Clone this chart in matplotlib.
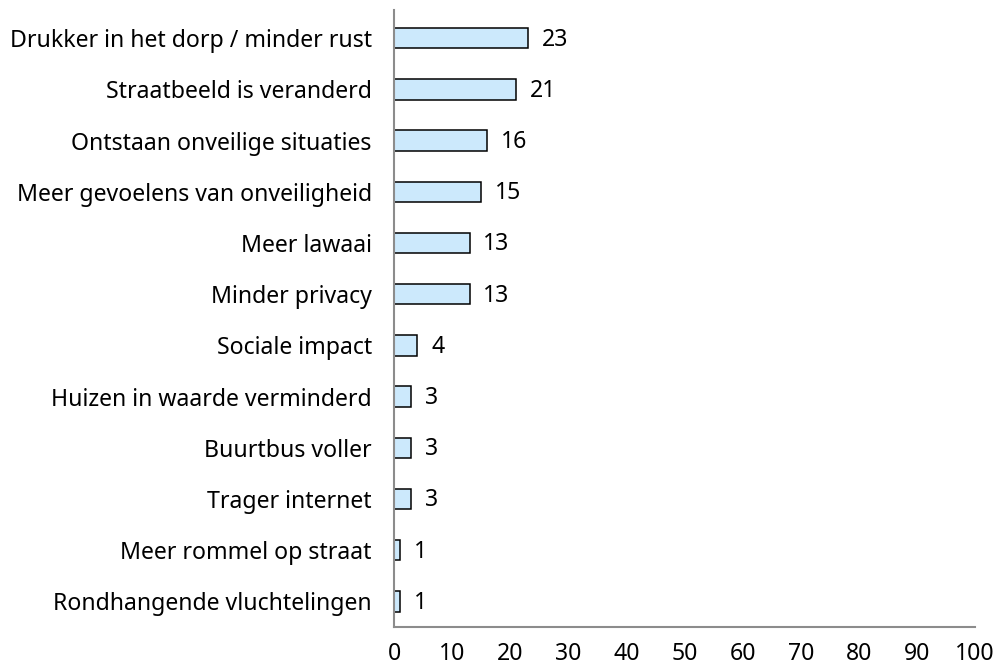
import matplotlib
matplotlib.use('Agg')
import matplotlib.pyplot as plt

categories = [
    'Drukker in het dorp / minder rust',
    'Straatbeeld is veranderd',
    'Ontstaan onveilige situaties',
    'Meer gevoelens van onveiligheid',
    'Meer lawaai',
    'Minder privacy',
    'Sociale impact',
    'Huizen in waarde verminderd',
    'Buurtbus voller',
    'Trager internet',
    'Meer rommel op straat',
    'Rondhangende vluchtelingen',
]
values = [23, 21, 16, 15, 13, 13, 4, 3, 3, 3, 1, 1]
xticks = [0, 10, 20, 30, 40, 50, 60, 70, 80, 90, 100]

plt.rcParams['font.family'] = ['Noto Sans', 'DejaVu Sans']
fs = 16.6

fig = plt.figure(figsize=(9.98, 6.68), dpi=100)
ax = fig.add_axes([0.3948, 0.0614, 0.977 - 0.3948, 0.985 - 0.0614])

ypos = list(range(len(categories)))
ax.barh(ypos, values, height=0.4, color='#cce9fc', edgecolor='black', linewidth=1.1)

for y, v in zip(ypos, values):
    ax.annotate(str(v), (v, y), xytext=(10, -1), textcoords='offset points',
                va='center', ha='left', fontsize=fs)

ax.set_yticks(ypos)
ax.set_yticklabels(categories, fontsize=fs)
ax.set_ylim(len(categories) - 0.5, -0.55)
ax.set_xlim(0, 100)
ax.set_xticks(xticks)
ax.set_xticklabels([str(t) for t in xticks], fontsize=fs)
ax.tick_params(axis='y', length=0, pad=16)
ax.tick_params(axis='x', length=0, pad=11)

for s in ['top', 'right']:
    ax.spines[s].set_visible(False)
for s in ['left', 'bottom']:
    ax.spines[s].set_color('#8c8c8c')
    ax.spines[s].set_linewidth(1.5)

fig.savefig('out.png', dpi=100)
